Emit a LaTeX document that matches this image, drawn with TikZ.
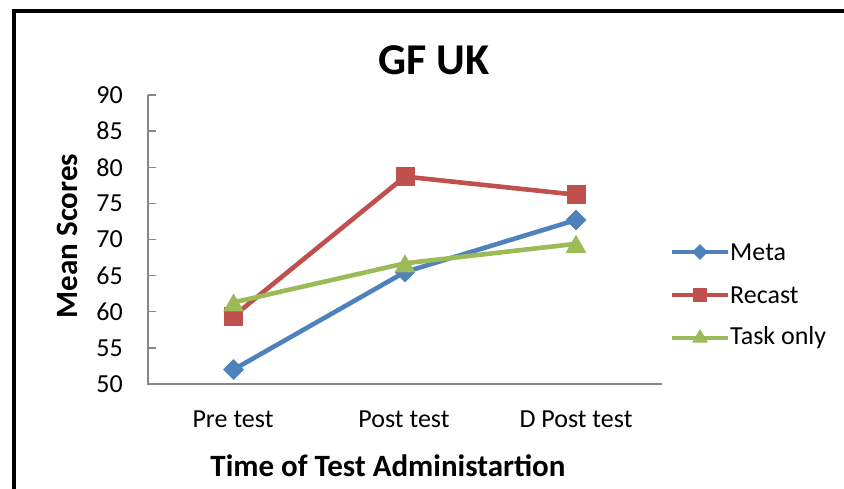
\documentclass[tikz,border=0pt]{standalone}
\usepackage{fontspec}
\setmainfont{Carlito}
\usetikzlibrary{shapes.geometric}
\definecolor{metablue}{HTML}{4F81BD}
\definecolor{recastred}{HTML}{C0504D}
\definecolor{taskgreen}{HTML}{9BBB59}
\definecolor{axisgray}{HTML}{868686}
\tikzset{
  series/.style={line width=4.6pt, line join=round},
  diam/.style={diamond, fill=metablue, inner sep=0pt, minimum width=21pt, minimum height=21pt},
  sq/.style={rectangle, fill=recastred, inner sep=0pt, minimum size=19pt},
  tri/.style={regular polygon, regular polygon sides=3, fill=taskgreen, inner sep=0pt, minimum size=24pt},
  ticklbl/.style={font=\fontsize{26}{30}\selectfont, inner sep=0pt},
  axtitle/.style={font=\fontsize{31}{36}\selectfont\bfseries, inner sep=0pt},
  axisline/.style={draw=axisgray, line width=1.4pt}
}
\begin{document}
\begin{tikzpicture}[x=1pt,y=-1pt]
\useasboundingbox[fill=white] (0,0) rectangle (844,489);
% outer frame (left and top edges)
\draw[line width=4pt] (13.7,489) -- (13.7,10.9) -- (844,10.9);

% title
\node[font=\fontsize{44}{50}\selectfont\bfseries, anchor=base, inner sep=0pt] (title) at (434,75) {GF UK};

% axes (50 at y=384, 7.225pt per point)
\coordinate (ytop) at (148,95);
\coordinate (origin) at (148,384);
\coordinate (xend) at (662,384);
\draw[axisline] (ytop) -- (origin) -- (xend);
\foreach \v in {50,55,...,90} {
  \pgfmathsetmacro{\yy}{384-(\v-50)*7.225}
  \ifnum\v>50 \draw[axisline] (148,\yy) -- (156,\yy); \fi
  \node[ticklbl, anchor=east] (yl\v) at (123,\yy) {\v};
}
\node[ticklbl, anchor=base] (c1) at (233,427) {Pre test};
\node[ticklbl, anchor=base] (c2) at (404,427) {Post test};
\node[ticklbl, anchor=base] (c3) at (576,427) {D Post test};

\node[axtitle, anchor=base] (xtitle) at (388,476) {Time of Test Administartion};
\node[axtitle, anchor=base, rotate=90] (ytitle) at (77,236) {Mean Scores};

% data series: Meta
\coordinate (m1) at (233.6,369.55);
\coordinate (m2) at (405,272.0);
\coordinate (m3) at (576,220.0);
\draw[series, metablue] (m1) -- (m2) -- (m3);
\node[diam] (ms1) at (m1) {};
\node[diam] (ms2) at (m2) {};
\node[diam] (ms3) at (m3) {};

% Recast
\coordinate (r1) at (233.6,316.1);
\coordinate (r2) at (405,176.6);
\coordinate (r3) at (576,194.7);
\draw[series, recastred] (r1) -- (r2) -- (r3);
\node[sq] (rs1) at (r1) {};
\node[sq] (rs2) at (r2) {};
\node[sq] (rs3) at (r3) {};

% Task only
\coordinate (t1) at (233.6,302.4);
\coordinate (t2) at (405,263.3);
\coordinate (t3) at (576,243.8);
\draw[series, taskgreen] (t1) -- (t2) -- (t3);
\node[tri, yshift=-3pt] (ts1) at (t1) {};
\node[tri, yshift=-3pt] (ts2) at (t2) {};
\node[tri, yshift=-3pt] (ts3) at (t3) {};

% legend
\foreach \yy/\col/\shape/\name/\lbl in {252/metablue/diam/lm/Meta, 295/recastred/sq/lr/Recast, 338/taskgreen/tri/lt/Task only} {
  \coordinate (\name a) at (672,\yy);
  \coordinate (\name b) at (728,\yy);
  \draw[line width=4pt, \col] (\name a) -- (\name b);
  \node[\shape, scale=0.75] (\name m) at (700,\yy) {};
  \node[ticklbl, anchor=west] (\name t) at (730,\yy) {\lbl};
}
\end{tikzpicture}
\end{document}
